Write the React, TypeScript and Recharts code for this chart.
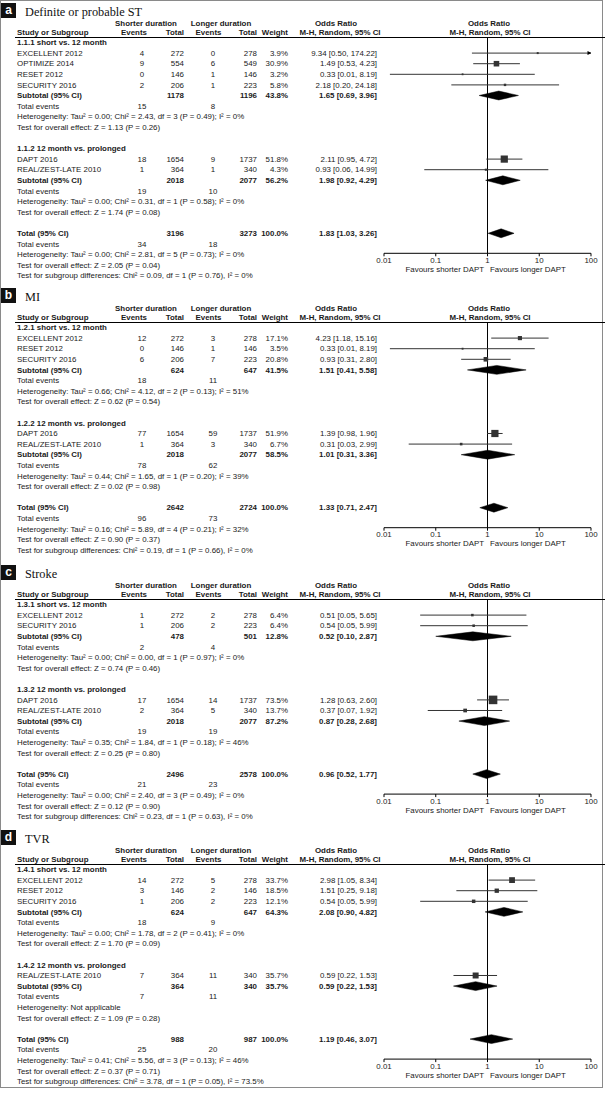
import React from 'react';
import { ComposedChart, XAxis, YAxis, Scatter, ReferenceLine } from 'recharts';

const SANS = '"Liberation Sans", Arial, sans-serif';
const SERIF = '"Liberation Serif", "Times New Roman", serif';

const panelLetters = ['a', 'b', 'c', 'd'];
const panelTitles = ['Definite or probable ST', 'MI', 'Stroke', 'TVR'];
const subgroupLabels = [
  ['1.1.1 short vs. 12 month', '1.1.2 12 month vs. prolonged'],
  ['1.2.1 short vs. 12 month', '1.2.2 12 month vs. prolonged'],
  ['1.3.1 short vs. 12 month', '1.3.2 12 month vs. prolonged'],
  ['1.4.1 short vs. 12 month', '1.4.2 12 month vs. prolonged'],
];
const axisTicks = [0.01, 0.1, 1, 10, 100];

type Study = { g: number; name: string; se: number; st: number; le: number; lt: number; w: number; or: number; lo: number; hi: number };
type Sub = { st: number; lt: number; w: number; or: number; lo: number; hi: number; se: number; le: number; het: string; z: string; sub?: string };

// ---- Definite or probable ST
const studiesST: Study[] = [
  { g: 0, name: 'EXCELLENT 2012', se: 4, st: 272, le: 0, lt: 278, w: 3.9, or: 9.34, lo: 0.5, hi: 174.22 },
  { g: 0, name: 'OPTIMIZE 2014', se: 9, st: 554, le: 6, lt: 549, w: 30.9, or: 1.49, lo: 0.53, hi: 4.23 },
  { g: 0, name: 'RESET 2012', se: 0, st: 146, le: 1, lt: 146, w: 3.2, or: 0.33, lo: 0.013, hi: 8.19 },
  { g: 0, name: 'SECURITY 2016', se: 2, st: 206, le: 1, lt: 223, w: 5.8, or: 2.18, lo: 0.2, hi: 24.18 },
  { g: 1, name: 'DAPT 2016', se: 18, st: 1654, le: 9, lt: 1737, w: 51.8, or: 2.11, lo: 0.95, hi: 4.72 },
  { g: 1, name: 'REAL/ZEST-LATE 2010', se: 1, st: 364, le: 1, lt: 340, w: 4.3, or: 0.93, lo: 0.06, hi: 14.99 },
];
const subtotalsST: Sub[] = [
  { st: 1178, lt: 1196, w: 43.8, or: 1.65, lo: 0.69, hi: 3.96, se: 15, le: 8, het: 'Tau² = 0.00; Chi² = 2.43, df = 3 (P = 0.49); I² = 0%', z: 'Z = 1.13 (P = 0.26)' },
  { st: 2018, lt: 2077, w: 56.2, or: 1.98, lo: 0.92, hi: 4.29, se: 19, le: 10, het: 'Tau² = 0.00; Chi² = 0.31, df = 1 (P = 0.58); I² = 0%', z: 'Z = 1.74 (P = 0.08)' },
];
const overallST: Sub = { st: 3196, lt: 3273, w: 100, or: 1.83, lo: 1.03, hi: 3.26, se: 34, le: 18, het: 'Tau² = 0.00; Chi² = 2.81, df = 5 (P = 0.73); I² = 0%', z: 'Z = 2.05 (P = 0.04)', sub: 'Chi² = 0.09, df = 1 (P = 0.76), I² = 0%' };

// ---- MI
const studiesMI: Study[] = [
  { g: 0, name: 'EXCELLENT 2012', se: 12, st: 272, le: 3, lt: 278, w: 17.1, or: 4.23, lo: 1.18, hi: 15.16 },
  { g: 0, name: 'RESET 2012', se: 0, st: 146, le: 1, lt: 146, w: 3.5, or: 0.33, lo: 0.013, hi: 8.19 },
  { g: 0, name: 'SECURITY 2016', se: 6, st: 206, le: 7, lt: 223, w: 20.8, or: 0.93, lo: 0.31, hi: 2.8 },
  { g: 1, name: 'DAPT 2016', se: 77, st: 1654, le: 59, lt: 1737, w: 51.9, or: 1.39, lo: 0.98, hi: 1.96 },
  { g: 1, name: 'REAL/ZEST-LATE 2010', se: 1, st: 364, le: 3, lt: 340, w: 6.7, or: 0.31, lo: 0.03, hi: 2.99 },
];
const subtotalsMI: Sub[] = [
  { st: 624, lt: 647, w: 41.5, or: 1.51, lo: 0.41, hi: 5.58, se: 18, le: 11, het: 'Tau² = 0.66; Chi² = 4.12, df = 2 (P = 0.13); I² = 51%', z: 'Z = 0.62 (P = 0.54)' },
  { st: 2018, lt: 2077, w: 58.5, or: 1.01, lo: 0.31, hi: 3.36, se: 78, le: 62, het: 'Tau² = 0.44; Chi² = 1.65, df = 1 (P = 0.20); I² = 39%', z: 'Z = 0.02 (P = 0.98)' },
];
const overallMI: Sub = { st: 2642, lt: 2724, w: 100, or: 1.33, lo: 0.71, hi: 2.47, se: 96, le: 73, het: 'Tau² = 0.16; Chi² = 5.89, df = 4 (P = 0.21); I² = 32%', z: 'Z = 0.90 (P = 0.37)', sub: 'Chi² = 0.19, df = 1 (P = 0.66), I² = 0%' };

// ---- Stroke
const studiesStroke: Study[] = [
  { g: 0, name: 'EXCELLENT 2012', se: 1, st: 272, le: 2, lt: 278, w: 6.4, or: 0.51, lo: 0.05, hi: 5.65 },
  { g: 0, name: 'SECURITY 2016', se: 1, st: 206, le: 2, lt: 223, w: 6.4, or: 0.54, lo: 0.05, hi: 5.99 },
  { g: 1, name: 'DAPT 2016', se: 17, st: 1654, le: 14, lt: 1737, w: 73.5, or: 1.28, lo: 0.63, hi: 2.6 },
  { g: 1, name: 'REAL/ZEST-LATE 2010', se: 2, st: 364, le: 5, lt: 340, w: 13.7, or: 0.37, lo: 0.07, hi: 1.92 },
];
const subtotalsStroke: Sub[] = [
  { st: 478, lt: 501, w: 12.8, or: 0.52, lo: 0.1, hi: 2.87, se: 2, le: 4, het: 'Tau² = 0.00; Chi² = 0.00, df = 1 (P = 0.97); I² = 0%', z: 'Z = 0.74 (P = 0.46)' },
  { st: 2018, lt: 2077, w: 87.2, or: 0.87, lo: 0.28, hi: 2.68, se: 19, le: 19, het: 'Tau² = 0.35; Chi² = 1.84, df = 1 (P = 0.18); I² = 46%', z: 'Z = 0.25 (P = 0.80)' },
];
const overallStroke: Sub = { st: 2496, lt: 2578, w: 100, or: 0.96, lo: 0.52, hi: 1.77, se: 21, le: 23, het: 'Tau² = 0.00; Chi² = 2.40, df = 3 (P = 0.49); I² = 0%', z: 'Z = 0.12 (P = 0.90)', sub: 'Chi² = 0.23, df = 1 (P = 0.63), I² = 0%' };

// ---- TVR
const studiesTVR: Study[] = [
  { g: 0, name: 'EXCELLENT 2012', se: 14, st: 272, le: 5, lt: 278, w: 33.7, or: 2.98, lo: 1.05, hi: 8.34 },
  { g: 0, name: 'RESET 2012', se: 3, st: 146, le: 2, lt: 146, w: 18.5, or: 1.51, lo: 0.25, hi: 9.18 },
  { g: 0, name: 'SECURITY 2016', se: 1, st: 206, le: 2, lt: 223, w: 12.1, or: 0.54, lo: 0.05, hi: 5.99 },
  { g: 1, name: 'REAL/ZEST-LATE 2010', se: 7, st: 364, le: 11, lt: 340, w: 35.7, or: 0.59, lo: 0.22, hi: 1.53 },
];
const subtotalsTVR: Sub[] = [
  { st: 624, lt: 647, w: 64.3, or: 2.08, lo: 0.9, hi: 4.82, se: 18, le: 9, het: 'Tau² = 0.00; Chi² = 1.78, df = 2 (P = 0.41); I² = 0%', z: 'Z = 1.70 (P = 0.09)' },
  { st: 364, lt: 340, w: 35.7, or: 0.59, lo: 0.22, hi: 1.53, se: 7, le: 11, het: 'Not applicable', z: 'Z = 1.09 (P = 0.28)' },
];
const overallTVR: Sub = { st: 988, lt: 987, w: 100, or: 1.19, lo: 0.46, hi: 3.07, se: 25, le: 20, het: 'Tau² = 0.41; Chi² = 5.56, df = 3 (P = 0.13); I² = 46%', z: 'Z = 0.37 (P = 0.71)', sub: 'Chi² = 3.78, df = 1 (P = 0.05), I² = 73.5%' };

const ROW = 10.6;
const FS = 7.9;

type Row = { kind: string; i: number; text?: string; d?: any };

function buildRows(studies: Study[], subs: Sub[], overall: Sub, labels: string[]): Row[] {
  const rows: Row[] = [];
  let i = 0;
  subs.forEach((s, g) => {
    rows.push({ kind: 'head', i: i++, text: labels[g] });
    studies.filter((x) => x.g === g).forEach((st) => rows.push({ kind: 'study', i: i++, d: st }));
    rows.push({ kind: 'sub', i: i++, d: s });
    rows.push({ kind: 'events', i: i++, d: s });
    rows.push({ kind: 'het', i: i++, d: s });
    rows.push({ kind: 'test', i: i++, d: s });
    i++;
  });
  rows.push({ kind: 'total', i: i++, d: overall });
  rows.push({ kind: 'events', i: i++, d: overall });
  rows.push({ kind: 'het', i: i++, d: overall });
  rows.push({ kind: 'test', i: i++, d: overall });
  rows.push({ kind: 'subtest', i: i++, d: overall });
  return rows;
}

const T = ({ x, y, a = 'l', b = false, children, size = FS, font = SANS, color = '#1a1a1a', lh = 1.2 }: any) => {
  const h = size * lh;
  return (
    <div
      style={{
        position: 'absolute',
        left: x,
        top: y - h / 2,
        height: h,
        lineHeight: h + 'px',
        fontSize: size,
        fontWeight: b ? 700 : 400,
        fontFamily: font,
        whiteSpace: 'nowrap',
        color,
        transform: a === 'r' ? 'translateX(-100%)' : a === 'c' ? 'translateX(-50%)' : undefined,
      }}
    >
      {children}
    </div>
  );
};

const ci = (d: any) => `${d.or.toFixed(2)} [${d.lo.toFixed(2)}, ${d.hi.toFixed(2)}]`;

const SquareShape = (p: any) => {
  const s = Math.max(1.8, Math.sqrt(p.payload.w));
  return <rect x={p.cx - s / 2} y={p.cy - s / 2} width={s} height={s} fill="#333" />;
};
const ArrowShape = (p: any) => (
  <path d={`M${p.cx - 3.5},${p.cy - 2} L${p.cx + 0.5},${p.cy} L${p.cx - 3.5},${p.cy + 2} Z`} fill="#000" />
);
const NoShape = () => <g />;

function Panel({ k, off, studies, subs, overall }: { k: number; off: number; studies: Study[]; subs: Sub[]; overall: Sub }) {
  const rows = buildRows(studies, subs, overall, subgroupLabels[k]);
  const Y = (i: number) => off + 43 + ROW * i;
  const studyRows = rows.filter((r) => r.kind === 'study');
  const diamondRows = rows.filter((r) => r.kind === 'sub' || r.kind === 'total');
  const totalRow = rows.find((r) => r.kind === 'total')!.i;
  const rTop = (37.5 - 42) / ROW;
  const rBot = totalRow + 20 / ROW;
  const plotH = (rBot - rTop) * ROW;
  const axisY = off + 42 + ROW * totalRow + 20;
  const squares = studyRows.map((r) => ({ x: r.d.or, y: r.i, w: r.d.w }));
  const arrows = studyRows.filter((r) => r.d.hi > 100).map((r) => ({ x: 100, y: r.i }));

  const texts: any[] = [];
  rows.forEach((r, idx) => {
    const y = Y(r.i);
    const d = r.d;
    if (r.kind === 'head') texts.push(<T key={idx} x={17} y={y} b>{r.text}</T>);
    if (r.kind === 'study') {
      texts.push(
        <React.Fragment key={idx}>
          <T x={17} y={y}>{d.name}</T>
          <T x={142} y={y} a="c">{d.se}</T>
          <T x={184} y={y} a="r">{d.st}</T>
          <T x={213} y={y} a="c">{d.le}</T>
          <T x={257} y={y} a="r">{d.lt}</T>
          <T x={288} y={y} a="r">{d.w.toFixed(1)}%</T>
          <T x={377} y={y} a="r">{ci(d)}</T>
        </React.Fragment>
      );
    }
    if (r.kind === 'sub' || r.kind === 'total') {
      texts.push(
        <React.Fragment key={idx}>
          <T x={17} y={y} b>{r.kind === 'sub' ? 'Subtotal (95% CI)' : 'Total (95% CI)'}</T>
          <T x={184} y={y} a="r" b>{d.st}</T>
          <T x={257} y={y} a="r" b>{d.lt}</T>
          <T x={288} y={y} a="r" b>{d.w.toFixed(1)}%</T>
          <T x={377} y={y} a="r" b>{ci(d)}</T>
        </React.Fragment>
      );
    }
    if (r.kind === 'events') {
      texts.push(
        <React.Fragment key={idx}>
          <T x={17} y={y}>Total events</T>
          <T x={142} y={y} a="c">{d.se}</T>
          <T x={213} y={y} a="c">{d.le}</T>
        </React.Fragment>
      );
    }
    if (r.kind === 'het') texts.push(<T key={idx} x={17} y={y}>Heterogeneity: {d.het}</T>);
    if (r.kind === 'test') texts.push(<T key={idx} x={17} y={y}>Test for overall effect: {d.z}</T>);
    if (r.kind === 'subtest') texts.push(<T key={idx} x={17} y={y}>Test for subgroup differences: {d.sub}</T>);
  });

  return (
    <>
      <div style={{ position: 'absolute', left: 1, top: off + 3, width: 15, height: 15, background: '#111', color: '#fff', fontFamily: SANS, fontWeight: 700, fontSize: 12, lineHeight: '14px', textAlign: 'center' }}>
        {panelLetters[k]}
      </div>
      <T x={25} y={off + 12.5} size={12.3} lh={1.0} font={SERIF} color="#111">{panelTitles[k]}</T>
      <T x={146} y={off + 23.5} a="c" b>Shorter duration</T>
      <T x={221} y={off + 23.5} a="c" b>Longer duration</T>
      <T x={336} y={off + 23.5} a="c" b>Odds Ratio</T>
      <T x={489} y={off + 23.5} a="c" b>Odds Ratio</T>
      <T x={17} y={off + 33} b>Study or Subgroup</T>
      <T x={134} y={off + 33} a="c" b>Events</T>
      <T x={184} y={off + 33} a="r" b>Total</T>
      <T x={208.5} y={off + 33} a="c" b>Events</T>
      <T x={257} y={off + 33} a="r" b>Total</T>
      <T x={288} y={off + 33} a="r" b>Weight</T>
      <T x={340} y={off + 33} a="c" b>M-H, Random, 95% CI</T>
      <T x={490} y={off + 33} a="c" b>M-H, Random, 95% CI</T>
      <div style={{ position: 'absolute', left: 15, top: off + 37, width: 590, height: 1, background: '#000' }} />
      {texts}
      <div style={{ position: 'absolute', left: 369, top: off + 37.5 }}>
        <ComposedChart width={237} height={plotH + 26} margin={{ top: 0, right: 15, left: 15, bottom: 0 }}>
          <XAxis
            type="number"
            dataKey="x"
            scale="log"
            domain={[0.01, 100]}
            ticks={axisTicks}
            interval={0}
            allowDataOverflow
            tickFormatter={(v: number) => String(v)}
            tick={{ fontSize: FS, fill: '#1a1a1a', fontFamily: SANS }}
            tickSize={3}
            tickMargin={1}
            stroke="#000"
            height={26}
          />
          <YAxis type="number" dataKey="y" domain={[rTop, rBot]} reversed hide allowDataOverflow />
          <ReferenceLine x={1} stroke="#000" strokeWidth={1} />
          {studyRows.map((r, j) => (
            <ReferenceLine
              key={'ci' + j}
              segment={[{ x: r.d.lo, y: r.i }, { x: Math.min(r.d.hi, 100), y: r.i }]}
              stroke="#333"
              strokeWidth={1}
            />
          ))}
          <Scatter data={squares} shape={SquareShape} isAnimationActive={false} />
          {arrows.length > 0 && <Scatter data={arrows} shape={ArrowShape} isAnimationActive={false} />}
          {diamondRows.map((r, j) => (
            <Scatter
              key={'dm' + j}
              data={[
                { x: r.d.lo, y: r.i },
                { x: r.d.or, y: r.i - 0.42 },
                { x: r.d.hi, y: r.i },
                { x: r.d.or, y: r.i + 0.42 },
                { x: r.d.lo, y: r.i },
              ]}
              line={{ stroke: '#000', fill: '#000', strokeWidth: 0.5 }}
              lineJointType="linear"
              shape={NoShape}
              isAnimationActive={false}
            />
          ))}
        </ComposedChart>
      </div>
      <T x={484} y={axisY + 17} a="r">Favours shorter DAPT</T>
      <T x={490} y={axisY + 17}>Favours longer DAPT</T>
    </>
  );
}

export default function App() {
  return (
    <div style={{ position: 'absolute', left: 0, top: 0, width: 605, height: 1094, background: '#fff', overflow: 'hidden' }}>
      <div style={{ position: 'absolute', left: 0, top: 0, width: 601, height: 1086, border: '1.5px solid #8a8a8a' }} />
      <Panel k={0} off={0} studies={studiesST} subs={subtotalsST} overall={overallST} />
      <Panel k={1} off={285} studies={studiesMI} subs={subtotalsMI} overall={overallMI} />
      <Panel k={2} off={562} studies={studiesStroke} subs={subtotalsStroke} overall={overallStroke} />
      <Panel k={3} off={827} studies={studiesTVR} subs={subtotalsTVR} overall={overallTVR} />
    </div>
  );
}
